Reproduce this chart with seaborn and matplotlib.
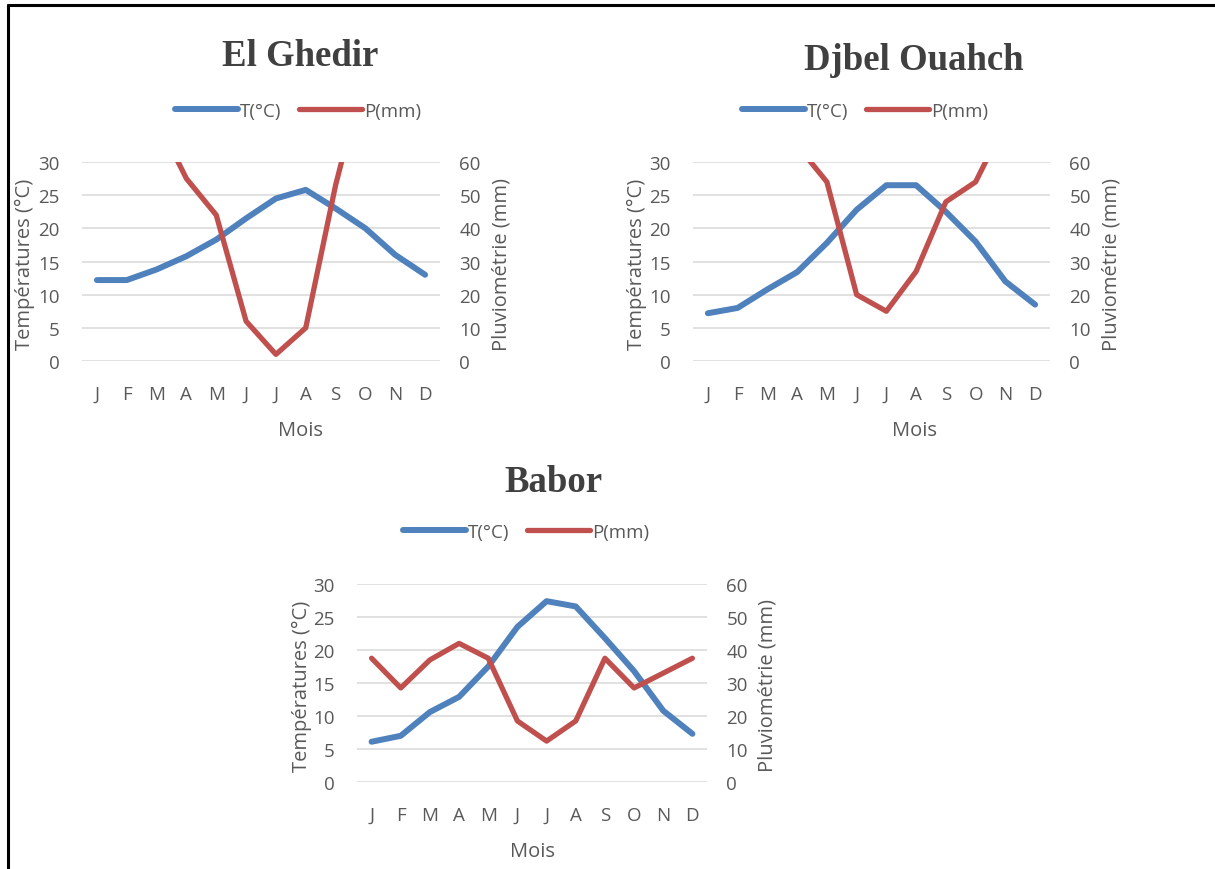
import numpy as np
import pandas as pd
import matplotlib
matplotlib.use("Agg")
import matplotlib.pyplot as plt
from matplotlib.lines import Line2D
import seaborn as sns

# ---------------- data ----------------
months = ["J", "F", "M", "A", "M", "J", "J", "A", "S", "O", "N", "D"]
stations = ["El Ghedir", "Djbel Ouahch", "Babor"]

t_el_ghedir = [12.2, 12.2, 13.8, 15.8, 18.3, 21.5, 24.5, 25.8, 23.0, 20.0, 16.0, 13.0]
p_el_ghedir = [85, 80, 73, 55, 44, 12, 2, 10, 53, 88, 95, 90]

t_djbel = [7.2, 8.0, 10.8, 13.4, 17.8, 22.8, 26.5, 26.5, 22.5, 18.0, 12.0, 8.5]
p_djbel = [90, 80, 75, 65, 54, 20, 15, 27, 48, 54, 72, 85]

t_babor = [6.1, 7.0, 10.6, 12.9, 17.5, 23.5, 27.4, 26.6, 21.8, 16.8, 10.8, 7.3]
p_babor = [37.5, 28.5, 37.0, 42.0, 37.5, 18.5, 12.4, 18.5, 37.5, 28.5, 33.0, 37.5]

temp_ticks = [0, 5, 10, 15, 20, 25, 30]
prec_ticks = [0, 10, 20, 30, 40, 50, 60]

# ---------------- style ----------------
sns.set_theme(style="white")
plt.rcParams["font.family"] = ["Open Sans", "DejaVu Sans"]

BLUE = "#4F81BD"
RED = "#C0504D"
TXT = "#595959"
GRID = "#D9D9D9"

W, H = 1215, 870
fig = plt.figure(figsize=(W / 100, H / 100), dpi=100)
fig.patch.set_facecolor("white")

def fx(px):
    return px / W

def fy(py):
    return 1 - py / H

# border (left and top)
fig.add_artist(Line2D([fx(8), fx(8)], [fy(6), 0], color="black", lw=2.2,
                      transform=fig.transFigure))
fig.add_artist(Line2D([fx(8), 1], [fy(6), fy(6)], color="black", lw=2.2,
                      transform=fig.transFigure))

panels = [
    dict(name=stations[0], T=t_el_ghedir, P=p_el_ghedir,
         box=(82, 440, 163, 362), ylab=(35, 492), title=(300, 57),
         legend=(298, 112), mois=(300, 431)),
    dict(name=stations[1], T=t_djbel, P=p_djbel,
         box=(693, 1050, 163, 362), ylab=(647, 1102), title=(914, 60),
         legend=(865, 112), mois=(915, 431)),
    dict(name=stations[2], T=t_babor, P=p_babor,
         box=(357, 707, 585, 783), ylab=(312, 758), title=(553, 483),
         legend=(526, 533), mois=(532, 852)),
]

TICK_FS = 13.5
LAB_FS = 14.5
LW_T = 4.3
LW_P = 3.8

for pnl in panels:
    l, r, t, b = pnl["box"]
    ax = fig.add_axes([fx(l), fy(b), (r - l) / W, (b - t) / H])
    ax2 = ax.twinx()
    df = pd.DataFrame({"idx": np.arange(12), "T": pnl["T"], "P": pnl["P"]})

    sns.lineplot(data=df, x="idx", y="T", ax=ax, color=BLUE, linewidth=LW_T,
                 solid_capstyle="round", solid_joinstyle="round", zorder=3)
    sns.lineplot(data=df, x="idx", y="P", ax=ax2, color=RED, linewidth=LW_P,
                 solid_capstyle="round", solid_joinstyle="round", zorder=3)

    ax.set_xlim(-0.5, 11.5)
    ax.set_ylim(0, 30)
    ax2.set_ylim(0, 60)
    ax.set_yticks(temp_ticks)
    ax2.set_yticks(prec_ticks)
    ax.set_xticks(np.arange(12))
    ax.set_xticklabels(months)

    ax.grid(False)
    ax2.grid(False)
    for v in temp_ticks:
        ax.axhline(v, color=GRID, lw=1.1, zorder=0)

    for a in (ax, ax2):
        for s in a.spines.values():
            s.set_visible(False)
        a.tick_params(length=0, colors=TXT, labelsize=TICK_FS)
        a.patch.set_alpha(0)
    ax.tick_params(axis="y", pad=16)
    ax2.tick_params(axis="y", pad=14)
    ax.tick_params(axis="x", pad=17)

    ax.set_xlabel("")
    ax.set_ylabel("Températures (°C)", color=TXT, fontsize=LAB_FS)
    ax2.set_ylabel("Pluviométrie (mm)", color=TXT, fontsize=LAB_FS)
    ax.yaxis.set_label_coords((pnl["ylab"][0] - l) / (r - l), 0.49)
    ax2.yaxis.set_label_coords((pnl["ylab"][1] - l) / (r - l), 0.49)

    fig.text(fx(pnl["mois"][0]), fy(pnl["mois"][1]), "Mois", ha="center", va="center",
             color=TXT, fontsize=LAB_FS)
    fig.text(fx(pnl["title"][0]), fy(pnl["title"][1]), pnl["name"], ha="center", va="center",
             color="#404040", fontsize=26.5, fontweight="bold", family="Liberation Serif")

    handles = [Line2D([0], [0], color=BLUE, lw=LW_T), Line2D([0], [0], color=RED, lw=LW_P)]
    fig.legend(handles, ["T(°C)", "P(mm)"], loc="center",
               bbox_to_anchor=(fx(pnl["legend"][0]), fy(pnl["legend"][1])),
               ncol=2, frameon=False, fontsize=13.5, handlelength=3.4,
               handletextpad=0.1, columnspacing=0.9, labelcolor=TXT)

fig.savefig("out.png", dpi=100, facecolor="white")
